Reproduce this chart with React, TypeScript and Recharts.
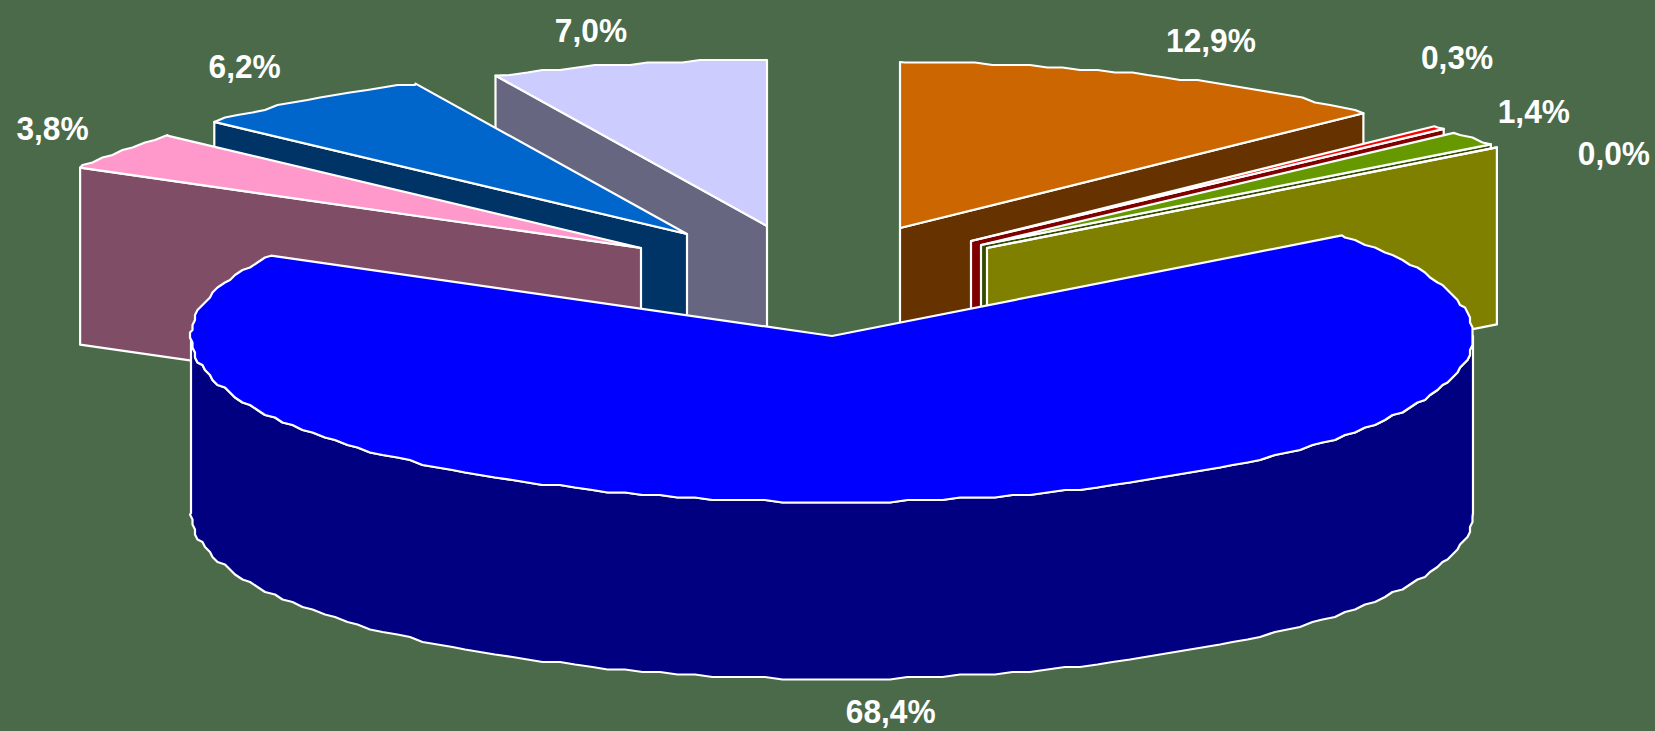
import { PieChart, Pie } from "recharts";

const W = 1655;
const H = 731;

// clockwise from 12 o'clock, they round to the printed labels
const names = ["A", "B", "C", "D", "E", "F", "G", "H"];
const values = [12.86, 0.34, 1.44, 0.0, 68.4, 3.76, 6.24, 6.96];

const topColors = ["#CC6600", "#FF0000", "#669900", "#FFFF00", "#0000FF", "#FF99CC", "#0066CC", "#CCCCFF"];
const sideColors = ["#663300", "#800000", "#334D00", "#808000", "#000080", "#804D66", "#003366", "#666680"];

// how far each slice is pulled out of the pie, px
const explodeX = [68, 139, 149, 155, 0, -191, -145, -65];
const explodeY = [-108, -95, -91, -88, 0, -88, -102, -110];
// label nudge from the rim point at the slice's middle, px
const labelX = [59, 18, 61, 117, 12, -68, -63, -37];
const labelY = [-35, -70, -27, 6, 210, -23, -34, -34];

const CX = 832;
const CY = 336;
const RX = 641;
const SQUASH = 166 / 641;
const DEPTH = 177;
const BG = "#4A6A4A";
const ARC_STEP = 1.6;

const rows = names.map((name, slot) => ({ name, slot, value: values[slot] }));
const total = values.reduce((a, b) => a + b, 0);

// the left slices are painted lavender first, so that group runs backwards from the top
const rightRows = rows.slice(0, 5);
const leftRows = rows.slice(5).reverse();
const rightSweep = (rightRows.reduce((a, r) => a + r.value, 0) / total) * 360;
const leftSweep = (leftRows.reduce((a, r) => a + r.value, 0) / total) * 360;

const rad = (d: number) => (d * Math.PI) / 180;
const snap = (v: number) => Math.round(v / 2.5) * 2.5; // the original outline is slightly stepped

// rim of a slice, going from the high angle down to the low one
function arcPoints(x: number, y: number, r: number, hi: number, lo: number) {
  const at = (d: number) => [x + r * Math.cos(rad(d)), y - r * SQUASH * Math.sin(rad(d))];
  const pts = [at(hi)];
  let d = Math.floor(hi / ARC_STEP) * ARC_STEP;
  while (d > lo) {
    if (d < hi) {
      const p = at(d);
      pts.push([snap(p[0]), snap(p[1])]);
    }
    d -= ARC_STEP;
  }
  pts.push(at(lo));
  return pts;
}

const toPath = (pts: number[][]) =>
  "M" + pts.map((p) => p[0].toFixed(1) + "," + p[1].toFixed(1)).join("L") + "Z";

function Slice3D(props: any) {
  const { cx, cy, outerRadius: r, startAngle, endAngle } = props;
  const slot = props.payload?.slot ?? props.slot;
  const x = cx + explodeX[slot];
  const y = cy + explodeY[slot];
  const hi = Math.max(startAngle, endAngle);
  const lo = Math.min(startAngle, endAngle);
  const line = { stroke: "#fff", strokeWidth: 2.2, strokeLinejoin: "round" as const };

  const faces = [];
  // cut faces that look towards the viewer
  const cut = Math.cos(rad(hi)) < -0.001 ? hi : Math.cos(rad(lo)) > 0.001 ? lo : null;
  if (cut !== null) {
    const ox = x + r * Math.cos(rad(cut));
    const oy = y - r * SQUASH * Math.sin(rad(cut));
    faces.push(
      <path
        key="cut"
        d={toPath([[x, y], [ox, oy], [ox, oy + DEPTH], [x, y + DEPTH]])}
        fill={sideColors[slot]}
        {...line}
      />
    );
  }
  // outer wall, only the front half of the rim
  const wallLo = Math.max(lo, -180);
  const wallHi = Math.min(hi, 0);
  if (wallLo < wallHi) {
    const rim = arcPoints(x, y, r, wallHi, wallLo);
    const under = rim.map((p) => [p[0], p[1] + DEPTH]).reverse();
    faces.push(<path key="wall" d={toPath([...rim, ...under])} fill={sideColors[slot]} {...line} />);
  }
  return (
    <g>
      {faces}
      <path d={toPath([[x, y], ...arcPoints(x, y, r, hi, lo)])} fill={topColors[slot]} {...line} />
    </g>
  );
}

function SliceLabel(props: any) {
  const { cx, cy, outerRadius: r, midAngle, value } = props;
  const slot = props.payload?.slot ?? props.slot;
  const a = rad(midAngle);
  const x = cx + explodeX[slot] + r * Math.cos(a) + labelX[slot];
  const y = cy + explodeY[slot] - r * SQUASH * Math.sin(a) + labelY[slot];
  // the labels in the original are a little taller than they are wide
  return (
    <text
      transform={`translate(${x} ${y}) scale(0.96 1)`}
      dy="0.36em"
      textAnchor="middle"
      fill="#fff"
      fontFamily="'Liberation Sans', Arial, sans-serif"
      fontWeight="bold"
      fontSize={33}
    >
      {value.toFixed(1).replace(".", ",") + "%"}
    </text>
  );
}

export default function App() {
  return (
    <div style={{ position: "absolute", left: 0, top: 0, width: W, height: H, background: BG }}>
      <PieChart width={W} height={H} margin={{ top: 0, right: 0, bottom: 0, left: 0 }}>
        <Pie
          data={leftRows}
          dataKey="value"
          nameKey="name"
          cx={CX}
          cy={CY}
          innerRadius={0}
          outerRadius={RX}
          startAngle={90}
          endAngle={90 + leftSweep}
          stroke="none"
          shape={Slice3D}
          label={SliceLabel}
          labelLine={false}
          isAnimationActive={false}
        />
        <Pie
          data={rightRows}
          dataKey="value"
          nameKey="name"
          cx={CX}
          cy={CY}
          innerRadius={0}
          outerRadius={RX}
          startAngle={90}
          endAngle={90 - rightSweep}
          stroke="none"
          shape={Slice3D}
          label={SliceLabel}
          labelLine={false}
          isAnimationActive={false}
        />
      </PieChart>
    </div>
  );
}
